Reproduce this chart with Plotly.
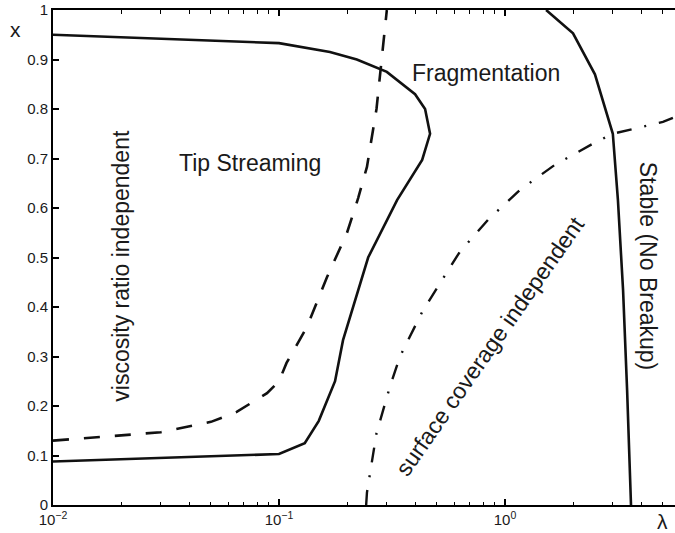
import numpy as np
import plotly.graph_objects as go

# Tip-streaming boundary (solid, C-shaped)
lam_tip = [0.01, 0.1, 0.13, 0.15, 0.177, 0.192, 0.248, 0.333, 0.43, 0.466,
           0.443, 0.40, 0.30, 0.221, 0.168, 0.1, 0.01]
x_tip = [0.088, 0.103, 0.125, 0.17, 0.25, 0.333, 0.5, 0.616, 0.697, 0.75,
         0.80, 0.83, 0.875, 0.90, 0.915, 0.933, 0.95]

# Viscosity-ratio-independent boundary (dashed)
lam_visc = [0.01, 0.03, 0.05, 0.065, 0.0885, 0.1, 0.108, 0.133, 0.163, 0.2,
            0.224, 0.245, 0.27, 0.30]
x_visc = [0.13, 0.147, 0.168, 0.188, 0.226, 0.25, 0.287, 0.36, 0.46, 0.55,
          0.62, 0.683, 0.80, 1.0]

# Surface-coverage-independent boundary (dash-dot)
lam_surf = [0.243, 0.245, 0.27, 0.31, 0.343, 0.43, 0.5, 0.63, 0.84, 1.16,
            1.66, 2.45, 3.0, 3.68, 5.0, 5.65]
x_surf = [0.0, 0.025, 0.145, 0.24, 0.30, 0.39, 0.438, 0.511, 0.576, 0.636,
          0.687, 0.73, 0.75, 0.76, 0.774, 0.784]

# Stability boundary (solid)
lam_stab = [1.52, 2.0, 2.5, 3.0, 3.16, 3.33, 3.47, 3.61]
x_stab = [1.0, 0.953, 0.87, 0.75, 0.616, 0.434, 0.232, 0.0]

x_major = [0.01, 0.1, 1]
x_major_text = ["10<sup>−2</sup>", "10<sup>−1</sup>", "10<sup>0</sup>"]
x_minor = [m * d for d in (0.01, 0.1, 1) for m in range(2, 10)]
y_ticks = [0, 0.1, 0.2, 0.3, 0.4, 0.5, 0.6, 0.7, 0.8, 0.9, 1]
y_text = ["0", "0.1", "0.2", "0.3", "0.4", "0.5", "0.6", "0.7", "0.8", "0.9", "1"]

FONT = "Liberation Sans, Arial, Helvetica, sans-serif"
INK = "#111111"

fig = go.Figure()
fig.add_trace(go.Scatter(x=lam_tip, y=x_tip, mode="lines",
                         line=dict(color=INK, width=2.6)))
fig.add_trace(go.Scatter(x=lam_visc, y=x_visc, mode="lines",
                         line=dict(color=INK, width=2.6, dash="16px,15px")))
fig.add_trace(go.Scatter(x=lam_surf, y=x_surf, mode="lines",
                         line=dict(color=INK, width=2.4, dash="15px,13px,2px,13px")))
fig.add_trace(go.Scatter(x=lam_stab, y=x_stab, mode="lines",
                         line=dict(color=INK, width=2.6)))

L, T, B = 53, 10, 28
W, H = 675, 533
pw, ph = W - L, H - T - B
DECADE_PX = 226


def px_paper(px, py):
    return (px - L) / pw, (H - B - py) / ph


annots = []
text_font = dict(family=FONT, size=23, color="#1a1a1a")
for txt, lam, xv, ang in [
    ("Fragmentation", 0.824, 0.873, 0),
    ("Tip Streaming", 10 ** -1.128, 0.691, 0),
    ("viscosity ratio independent", 10 ** -1.70, 0.483, -90),
    ("Stable (No Breakup)", 10 ** 0.633, 0.483, 90),
    ("surface coverage independent", 10 ** -0.066, 0.321, -55),
]:
    annots.append(dict(x=np.log10(lam), y=xv, xref="x", yref="y", text=txt,
                       showarrow=False, textangle=ang, font=text_font,
                       xanchor="center", yanchor="middle"))

for txt, (px, py) in [("x", (15, 29)), ("λ", (662, 521))]:
    ax_, ay_ = px_paper(px, py)
    annots.append(dict(x=ax_, y=ay_, xref="paper", yref="paper", text=txt,
                       showarrow=False, font=dict(family=FONT, size=21, color="#1a1a1a"),
                       xanchor="center", yanchor="middle"))

fig.update_layout(
    width=W, height=H,
    margin=dict(l=L, r=0, t=T, b=B, pad=0),
    paper_bgcolor="white", plot_bgcolor="white",
    showlegend=False,
    font=dict(family=FONT, size=15, color="#1a1a1a"),
    annotations=annots,
    xaxis=dict(
        type="log", range=[-2, -2 + pw / DECADE_PX],
        tickmode="array", tickvals=x_major, ticktext=x_major_text,
        ticks="inside", ticklen=6, tickwidth=1.5, tickcolor="black",
        showline=True, linecolor="black", linewidth=2, mirror="ticks",
        showgrid=False, zeroline=False,
        tickfont=dict(family=FONT, size=15, color="#1a1a1a"),
        minor=dict(tickmode="array", tickvals=x_minor, ticks="inside",
                   ticklen=3.5, tickwidth=1.2, tickcolor="black", showgrid=False),
    ),
    yaxis=dict(
        range=[0, 1],
        tickmode="array", tickvals=y_ticks, ticktext=y_text,
        ticks="inside", ticklen=6, tickwidth=1.5, tickcolor="black",
        showline=True, linecolor="black", linewidth=2, mirror=False,
        showgrid=False, zeroline=False,
        tickfont=dict(family=FONT, size=15, color="#1a1a1a"),
    ),
)

fig.write_html("out.html")
